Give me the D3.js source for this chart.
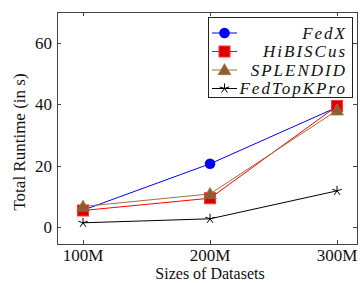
<!DOCTYPE html>
<html><head><meta charset="utf-8">
<script src="https://cdn.jsdelivr.net/npm/d3@7"></script>
<style>body{margin:0;background:#fff}</style>
</head><body><svg id="c" width="363" height="283"></svg>
<script>
const categories = ["100M","200M","300M"];
const xValues = [100,200,300];
const fedx = [5.5, 20.6, 39.0];
const hibiscus = [5.4, 9.4, 39.4];
const splendid = [6.7, 10.8, 38.0];
const fedtopk = [1.4, 2.7, 11.8];
const yTicks = [0,20,40,60];
const seriesNames = ["FedX","HiBISCus","SPLENDID","FedTopKPro"];

const svg = d3.select("#c");
const L=57,R=357,T=12,B=244;
const x = d3.scaleLinear().domain([79.5,315.7]).range([L,R]);
const y = d3.scaleLinear().domain([-5.5,70]).range([B,T]);

const serif = "'Liberation Serif','DejaVu Serif',serif";
const ac = "#444";
const fs = 16;
svg.append("rect").attr("x",L+0.5).attr("y",T+0.5).attr("width",R-L).attr("height",B-T)
  .attr("fill","none").attr("stroke",ac).attr("stroke-width",1);
const tl=4;
xValues.forEach((v,i)=>{
  const px=Math.round(x(v))+0.5;
  svg.append("line").attr("x1",px).attr("x2",px).attr("y1",B).attr("y2",B-tl).attr("stroke",ac);
  svg.append("line").attr("x1",px).attr("x2",px).attr("y1",T).attr("y2",T+tl).attr("stroke",ac);
  svg.append("text").attr("x",x(v)).attr("y",B+17).attr("text-anchor","middle")
    .attr("font-family",serif).attr("font-size",17).attr("fill","#111").text(categories[i]);
});
yTicks.forEach(v=>{
  const py=Math.round(y(v))+0.5;
  svg.append("line").attr("x1",L).attr("x2",L+tl).attr("y1",py).attr("y2",py).attr("stroke",ac);
  svg.append("line").attr("x1",R).attr("x2",R-tl).attr("y1",py).attr("y2",py).attr("stroke",ac);
  svg.append("text").attr("x",L-5).attr("y",y(v)+6).attr("text-anchor","end")
    .attr("font-family",serif).attr("font-size",17).attr("fill","#111").text(v);
});
svg.append("text").attr("x",(L+R)/2+3).attr("y",279).attr("text-anchor","middle")
  .attr("font-family",serif).attr("font-size",fs).attr("fill","#111").text("Sizes of Datasets");
svg.append("text").attr("transform",`translate(25,${(T+B)/2+14}) rotate(-90)`).attr("text-anchor","middle")
  .attr("font-family",serif).attr("font-size",17).attr("fill","#111").text("Total Runtime (in s)");

const brown="#a0703f";
const series=[
  {name:seriesNames[0],data:fedx,color:"#0000ff",marker:"circle"},
  {name:seriesNames[1],data:hibiscus,color:"#ff0000",marker:"square"},
  {name:seriesNames[2],data:splendid,color:brown,marker:"triangle"},
  {name:seriesNames[3],data:fedtopk,color:"#000",marker:"star"}
];
function marker(g,type,cx,cy,color){
  if(type==="circle") g.append("circle").attr("cx",cx).attr("cy",cy).attr("r",5.3).attr("fill",color);
  else if(type==="square") g.append("rect").attr("x",cx-5.5).attr("y",cy-5.5).attr("width",11).attr("height",11).attr("fill","#dd0000").attr("stroke","#ff3333").attr("stroke-width",1);
  else if(type==="triangle") g.append("path").attr("d",d3.symbol(d3.symbolTriangle,70)()).attr("transform",`translate(${cx},${cy+1})`).attr("fill","#8c5f30").attr("stroke",brown).attr("stroke-width",0.8);
  else if(type==="star"){
    const r=5;
    for(let k=0;k<5;k++){const a=-Math.PI/2+k*2*Math.PI/5;
      g.append("line").attr("x1",cx).attr("y1",cy).attr("x2",cx+r*Math.cos(a)).attr("y2",cy+r*Math.sin(a)).attr("stroke","#000").attr("stroke-width",1);}
  }
}
const line=d3.line().x((d,i)=>x(xValues[i])).y(d=>y(d));
series.forEach(s=>{
  svg.append("path").datum(s.data).attr("d",line).attr("fill","none").attr("stroke",s.color).attr("stroke-width",1);
});
series.forEach(s=>{
  const g=svg.append("g");
  s.data.forEach((v,i)=>marker(g,s.marker,x(xValues[i]),y(v),s.color));
});
const lg=svg.append("g");
lg.append("rect").attr("x",208.5).attr("y",17.5).attr("width",144).attr("height",80).attr("fill","#fff").attr("stroke","#222").attr("stroke-width",1);
series.forEach((s,i)=>{
  const cy=33+i*18.5;
  lg.append("line").attr("x1",212).attr("x2",237).attr("y1",cy).attr("y2",cy).attr("stroke",s.color).attr("stroke-width",1);
  marker(lg,s.marker,224.5,cy,s.color);
  lg.append("text").attr("x",347).attr("y",cy+5.5).attr("text-anchor","end")
    .attr("font-family",serif).attr("font-style","italic").attr("font-size",17).attr("letter-spacing",2).attr("fill","#111").text(s.name);
});
</script></body></html>
